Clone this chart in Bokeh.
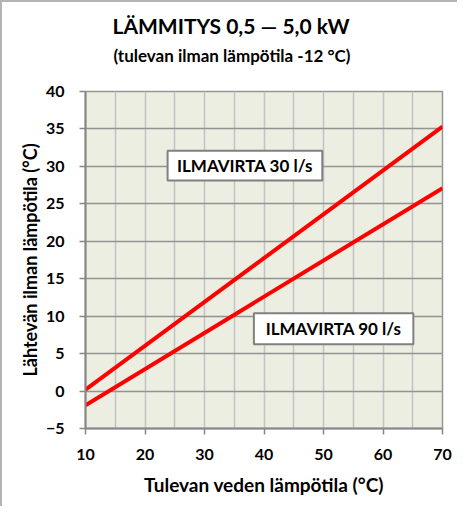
from bokeh.plotting import figure
from bokeh.models import Range1d, FixedTicker, Label, BoxAnnotation, Title
from bokeh.embed import file_html
from bokeh.resources import INLINE

# ---- data ----
water_temp = [10, 70]                 # Tulevan veden lämpötila (°C)
flow30_out = [0.2, 35.3]              # ILMAVIRTA 30 l/s
flow90_out = [-1.9, 27.1]             # ILMAVIRTA 90 l/s
x_ticks = [10, 20, 30, 40, 50, 60, 70]
x_grid = [10, 15, 20, 25, 30, 35, 40, 45, 50, 55, 60, 65, 70]
y_ticks = [-5, 0, 5, 10, 15, 20, 25, 30, 35, 40]

title_text = "LÄMMITYS 0,5 — 5,0 kW"
subtitle_text = "(tulevan ilman lämpötila -12 °C)"
x_label = "Tulevan veden lämpötila (°C)"
y_label = "Lähtevän ilman lämpötila (°C)"
label30 = "ILMAVIRTA 30 l/s"
label90 = "ILMAVIRTA 90 l/s"

FONT = "Lato"

p = figure(width=457, height=506, output_backend="svg", toolbar_location=None, title=None,
           x_range=Range1d(10, 70), y_range=Range1d(-5, 40),
           min_border_left=83, min_border_right=17, min_border_top=89, min_border_bottom=80)
p.styles = {"border-left": "2px solid #b4b4b4", "border-top": "2px solid #b4b4b4"}

p.background_fill_color = "#ebeee0"
p.border_fill_color = "white"
p.outline_line_color = "#969696"
p.outline_line_width = 1.5

# grids
p.xgrid.ticker = FixedTicker(ticks=x_grid)
p.xgrid.grid_line_color = "#c3c3c3"
p.xgrid.grid_line_width = 1.5
p.ygrid.ticker = FixedTicker(ticks=y_ticks)
p.ygrid.grid_line_color = "#939393"
p.ygrid.grid_line_width = 1.5

# axes
for ax in (p.xaxis[0], p.yaxis[0]):
    ax.axis_line_color = "#868686"
    ax.axis_line_width = 2
    ax.major_tick_line_color = "#868686"
    ax.major_tick_line_width = 1.5
    ax.major_tick_out = 6
    ax.major_tick_in = 0
    ax.minor_tick_line_color = None
    ax.major_label_text_font = FONT
    ax.major_label_text_font_style = "bold"
    ax.major_label_text_font_size = "16px"
    ax.major_label_text_color = "black"
    ax.axis_label_text_font = FONT
    ax.axis_label_text_font_style = "bold"
    ax.axis_label_text_color = "black"

p.xaxis.axis_label_text_font_size = "19px"
p.yaxis.axis_label_text_font_size = "18px"
p.xaxis.ticker = FixedTicker(ticks=x_ticks)
p.yaxis.ticker = FixedTicker(ticks=y_ticks)
p.xaxis.axis_label = x_label
p.yaxis.axis_label = y_label
p.xaxis.major_label_standoff = 14
p.yaxis.major_label_standoff = 15
p.xaxis.axis_label_standoff = 10
p.yaxis.axis_label_standoff = 2

# lines
p.line(water_temp, flow30_out, line_color="#ff0000", line_width=4)
p.line(water_temp, flow90_out, line_color="#ff0000", line_width=4)

# boxed labels
for (l, r, b, t, cx, cy, txt) in [(23.8, 49.8, 28.1, 32.1, 36.8, 30.1, label30),
                                  (38.3, 65.1, 6.25, 10.4, 51.7, 8.33, label90)]:
    p.add_layout(BoxAnnotation(left=l, right=r, bottom=b, top=t, fill_color="white", fill_alpha=1,
                               line_color="#808080", line_width=2, line_alpha=1))
    p.add_layout(Label(x=cx, y=cy, text=txt, text_align="center", text_baseline="middle",
                       text_font=FONT, text_font_style="bold", text_font_size="17px",
                       text_color="black"))

# titles (first added sits closest to the frame); first one is a white spacer
p.add_layout(Title(text="x", text_color="white", text_font_size="1px", standoff=23), "above")
p.add_layout(Title(text=subtitle_text, align="left", offset=28, standoff=0,
                   text_font=FONT, text_font_style="bold", text_font_size="17px",
                   text_color="black"), "above")
p.add_layout(Title(text=title_text, align="left", offset=27, standoff=9,
                   text_font=FONT, text_font_style="bold", text_font_size="21px",
                   text_color="black"), "above")

open("out.html", "w").write(file_html(p, INLINE))
